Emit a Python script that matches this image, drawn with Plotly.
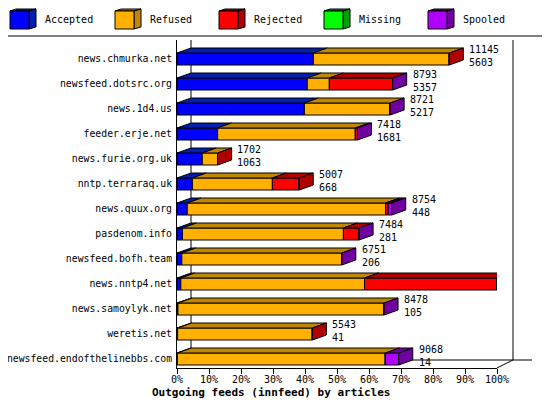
import plotly.graph_objects as go

hosts = ["news.chmurka.net","newsfeed.dotsrc.org","news.1d4.us","feeder.erje.net",
         "news.furie.org.uk","nntp.terraraq.uk","news.quux.org","pasdenom.info",
         "newsfeed.bofh.team","news.nntp4.net","news.samoylyk.net","weretis.net",
         "newsfeed.endofthelinebbs.com"]
offered = [11145,8793,8721,7418,1702,5007,8754,7484,6751,13103,8478,5543,9068]
accepted = [5603,5357,5217,1681,1063,668,448,281,206,201,105,41,14]
# percentage (of largest feed) segments
pct_accepted = [42.6,40.7,39.8,12.7,7.9,4.8,3.2,1.7,1.5,1.2,0.3,0.2,0.1]
pct_refused  = [42.5,6.9,26.8,43.0,4.8,25.0,62.0,50.3,50.0,57.4,64.4,42.1,65.0]
pct_rejected = [0,19.8,0,0.7,0,8.4,0.8,4.9,0,41.4,0,0,0]
pct_missing  = [0]*13
pct_spooled  = [0,0,0,0,0,0,1.1,0,0,0,0,0,4.2]
side_kind = ["Rejected","Spooled","Spooled","Spooled","Rejected","Rejected","Spooled",
             "Spooled","Spooled","Spooled","Spooled","Rejected","Spooled"]
x_ticks = list(range(0,101,10))

series = [("Accepted",pct_accepted,"#0000ff","#0020b0"),
          ("Refused",pct_refused,"#ffb000","#c08800"),
          ("Rejected",pct_rejected,"#ff0000","#b00000"),
          ("Missing",pct_missing,"#00ff00","#00a000"),
          ("Spooled",pct_spooled,"#b000ff","#7000a0")]
dark = {s[0]: s[3] for s in series}

DX, DY, H = 4.375, 0.2, 0.24
mono = "DejaVu Sans Mono"
fig = go.Figure()
rows = list(range(len(hosts)))
base = [0.0]*13
polys = {}
for name, vals, col, dcol in series:
    for i in rows:
        v = vals[i]
        if v <= 0: continue
        x0, x1, yc = base[i], base[i]+v, i
        polys.setdefault(dcol, []).extend([x0, x0+DX, x1+DX, x1, x0, None])
        polys.setdefault(dcol+"y", []).extend([yc-H, yc-H-DY, yc-H-DY, yc-H, yc-H, None])
    fig.add_trace(go.Bar(y=rows, x=vals, base=base[:], orientation="h", width=2*H,
                         marker=dict(color=col, line=dict(color="black", width=1)),
                         showlegend=False, hoverinfo="skip", cliponaxis=False))
    base = [b+v for b, v in zip(base, vals)]
for name, vals, col, dcol in series:
    if dcol in polys:
        fig.add_trace(go.Scatter(x=polys[dcol], y=polys[dcol+"y"], mode="lines", fill="toself",
                                 fillcolor=dcol, line=dict(color="black", width=1),
                                 showlegend=False, hoverinfo="skip", cliponaxis=False))
for kind in ["Rejected","Spooled"]:
    xs, ys = [], []
    for i in rows:
        if side_kind[i] != kind: continue
        e = base[i]
        xs += [e, e+DX, e+DX, e, e, None]
        ys += [i+H, i+H-DY, i-H-DY, i-H, i+H, None]
    fig.add_trace(go.Scatter(x=xs, y=ys, mode="lines", fill="toself", fillcolor=dark[kind],
                             line=dict(color="black", width=1), showlegend=False, hoverinfo="skip",
                             cliponaxis=False))

ann = []
for i in rows:
    ann.append(dict(x=base[i]+DX+1.2, y=i-0.12, xref="x", yref="y", xanchor="left", yanchor="middle",
                    text=f"{offered[i]}<br>{accepted[i]}", showarrow=False, align="left",
                    font=dict(family=mono, size=10, color="black")))

W, Hh = 550, 405
OFF = 8  # page body margin
L, R, T, B = 177, 497, 40, 368  # screen pixels
def px(x): return (x-L)/(R-L)
def py(y): return (B-y)/(B-T)
shapes = [
    dict(type="line", xref="paper", yref="paper", x0=px(0), x1=px(550), y0=py(36), y1=py(36), line=dict(color="black", width=1)),
    dict(type="line", xref="paper", yref="paper", x0=px(191), x1=px(191), y0=py(40), y1=py(360), line=dict(color="black", width=1), layer="below"),
    dict(type="line", xref="paper", yref="paper", x0=px(513), x1=px(513), y0=py(40), y1=py(360), line=dict(color="black", width=1), layer="below"),
    dict(type="line", xref="paper", yref="paper", x0=px(191), x1=px(532), y0=py(360), y1=py(360), line=dict(color="black", width=1), layer="below"),
    dict(type="line", xref="paper", yref="paper", x0=px(497), x1=px(513), y0=py(368), y1=py(360), line=dict(color="black", width=1)),
]
lx = [10, 115, 219, 324, 428]
for (name, vals, col, dcol), x in zip(series, lx):
    shapes.append(dict(type="path", xref="paper", yref="paper",
        path=f"M {px(x)} {py(11)} L {px(x+6)} {py(9)} L {px(x+26)} {py(9)} L {px(x+19)} {py(11)} Z",
        fillcolor=dcol, line=dict(color="black", width=1)))
    shapes.append(dict(type="path", xref="paper", yref="paper",
        path=f"M {px(x+19)} {py(11)} L {px(x+26)} {py(9)} L {px(x+26)} {py(27)} L {px(x+19)} {py(29)} Z",
        fillcolor=dcol, line=dict(color="black", width=1)))
    shapes.append(dict(type="rect", xref="paper", yref="paper", x0=px(x), x1=px(x+19), y0=py(29), y1=py(11),
        fillcolor=col, line=dict(color="black", width=1)))
    ann.append(dict(x=px(x+33), y=py(20), xref="paper", yref="paper", xanchor="left", yanchor="middle",
                    text=name, showarrow=False, font=dict(family=mono, size=10, color="black")))
ann.append(dict(x=px(271), y=py(392), xref="paper", yref="paper", xanchor="center", yanchor="middle",
                text="<b>Outgoing feeds (innfeed) by articles</b>", showarrow=False,
                font=dict(family=mono, size=11, color="black")))

fig.update_layout(width=W, height=Hh,
                  margin=dict(l=L-OFF, r=W-R+OFF, t=T-OFF, b=Hh-B+OFF),
                  paper_bgcolor="white", plot_bgcolor="white", barmode="overlay",
                  shapes=shapes, annotations=ann, showlegend=False,
                  xaxis=dict(range=[0,100], tickvals=x_ticks, ticktext=[f"{t}%" for t in x_ticks],
                             showgrid=False, zeroline=False, showline=True, linecolor="black",
                             ticks="outside", ticklen=5, tickcolor="black", automargin=False,
                             ticklabelstandoff=-3,
                             tickfont=dict(family=mono, size=10, color="black"), fixedrange=True),
                  yaxis=dict(range=[12.36,-0.76], tickvals=rows, ticktext=hosts, showgrid=False,
                             zeroline=False, showline=True, linecolor="black", ticks="", automargin=False,
                             ticklabelstandoff=2,
                             tickfont=dict(family=mono, size=9.8, color="black"), fixedrange=True))
fig.write_html("out.html")
